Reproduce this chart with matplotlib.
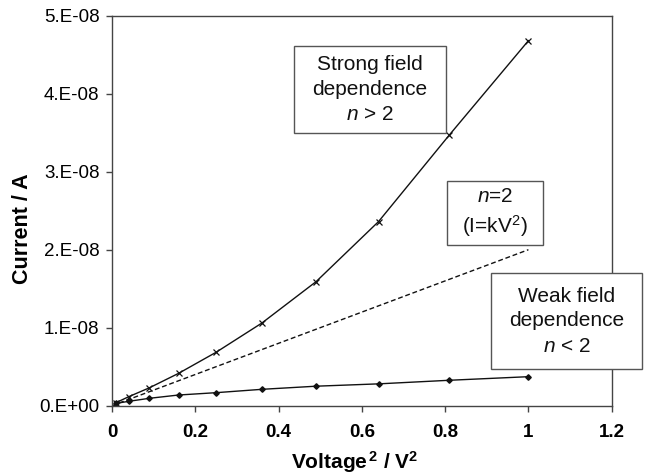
import matplotlib
matplotlib.use("Agg")
import matplotlib.pyplot as plt
from matplotlib.patches import Rectangle

plt.rcParams['font.family'] = ['Liberation Sans', 'DejaVu Sans']
plt.rcParams['mathtext.fontset'] = 'custom'
plt.rcParams['mathtext.rm'] = 'Liberation Sans'
plt.rcParams['mathtext.it'] = 'Liberation Sans:italic'
plt.rcParams['mathtext.bf'] = 'Liberation Sans:bold'

# Data
voltage_sq = [0.01, 0.04, 0.09, 0.16, 0.25, 0.36, 0.49, 0.64, 0.81, 1.0]
strong_current = [0.04e-8, 0.115e-8, 0.23e-8, 0.415e-8, 0.685e-8, 1.06e-8, 1.59e-8, 2.36e-8, 3.47e-8, 4.68e-8]
weak_current = [0.03e-8, 0.056e-8, 0.095e-8, 0.137e-8, 0.167e-8, 0.21e-8, 0.25e-8, 0.28e-8, 0.326e-8, 0.372e-8]
ideal_x = [0.0, 1.0]
ideal_current = [0.0, 2.0e-8]
x_ticks = [0, 0.2, 0.4, 0.6, 0.8, 1.0, 1.2]
x_tick_labels = ['0', '0.2', '0.4', '0.6', '0.8', '1', '1.2']
y_ticks = [0, 1e-8, 2e-8, 3e-8, 4e-8, 5e-8]
y_tick_labels = ['0.E+00', '1.E-08', '2.E-08', '3.E-08', '4.E-08', '5.E-08']

W, H = 650, 475
fig = plt.figure(figsize=(6.5, 4.75), dpi=100)
ax_l, ax_r, ax_t, ax_b = 112, 611.7, 15.7, 405.7
ax = fig.add_axes([ax_l / W, 1 - ax_b / H, (ax_r - ax_l) / W, (ax_b - ax_t) / H])

ax.plot(voltage_sq, strong_current, color='#111111', lw=1.0, marker='x', ms=4, mew=0.9)
ax.plot(voltage_sq, weak_current, color='#111111', lw=1.0, marker='D', ms=2.8)
ax.plot(ideal_x, ideal_current, color='#111111', lw=1.0, ls=(0, (3.5, 2)))

ax.set_xlim(0, 1.2)
ax.set_ylim(0, 5e-8)
ax.set_xticks(x_ticks)
ax.set_xticklabels(x_tick_labels, fontsize=13.5, fontweight='bold')
ax.set_yticks(y_ticks)
ax.set_yticklabels(y_tick_labels, fontsize=13.5)
ax.tick_params(direction='out', length=4, width=1, color='#444444')
ax.tick_params(axis='y', pad=5)
ax.tick_params(axis='x', pad=9)
for s in ax.spines.values():
    s.set_color('#444444')
    s.set_linewidth(1.0)

ax.set_xlabel('Voltage$^{\\,\\mathbf{2}}$ / V$^{\\mathbf{2}}$', fontsize=15, fontweight='bold')
ax.set_ylabel('Current / A', fontsize=15.5, fontweight='bold')
ax.xaxis.set_label_coords((355 - ax_l) / (ax_r - ax_l), -(449 - ax_b) / (ax_b - ax_t))
ax.yaxis.set_label_coords(-(ax_l - 33) / (ax_r - ax_l), (ax_b - 229) / (ax_b - ax_t))

def fx(px):
    return px / W

def fy(py):
    return 1 - py / H

def box(x0, y0, x1, y1, text):
    r = Rectangle((fx(x0), fy(y1)), fx(x1) - fx(x0), fy(y0) - fy(y1),
                  transform=fig.transFigure, facecolor='white', edgecolor='#555555', lw=1.0, zorder=5)
    fig.patches.append(r)
    fig.text(fx((x0 + x1) / 2), fy((y0 + y1) / 2), text, ha='center', va='center',
             fontsize=15, linespacing=1.4, zorder=6, color='#111111')

box(294, 46, 446, 133, 'Strong field\ndependence\n$n$ > 2')
box(447, 181, 543, 245, '$n$=2\n(I=kV$^{2}$)')
box(491, 273, 642, 369, 'Weak field\ndependence\n$n$ < 2')

fig.savefig('out.png', dpi=100)
